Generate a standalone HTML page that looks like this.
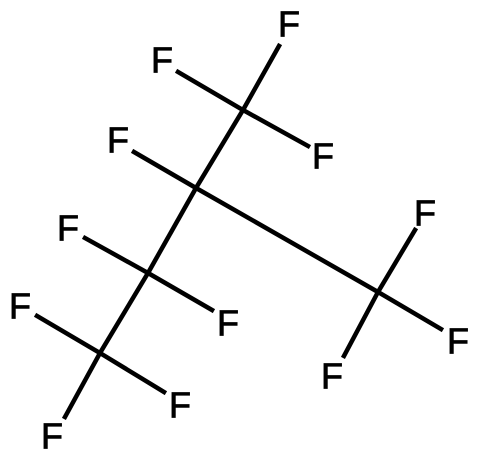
<!DOCTYPE html>
<html><head><meta charset="utf-8"><style>
html,body{margin:0;padding:0;background:#fff;}
svg{display:block;}
text{font-family:"Liberation Sans",sans-serif;font-size:36px;fill:#000;stroke:#000;stroke-width:0.8px;}
</style></head><body>
<svg width="479" height="461" viewBox="0 0 479 461">
<g stroke="#000" stroke-width="4.5" stroke-linecap="square">
<line x1="243" y1="110" x2="279" y2="46"/>
<line x1="243" y1="110" x2="178" y2="72"/>
<line x1="243" y1="110" x2="308" y2="146"/>
<line x1="243" y1="110" x2="196" y2="188"/>
<line x1="196" y1="188" x2="134" y2="152"/>
<line x1="196" y1="188" x2="378" y2="292"/>
<line x1="378" y1="292" x2="415" y2="230"/>
<line x1="378" y1="292" x2="441" y2="329"/>
<line x1="378" y1="292" x2="344" y2="356"/>
<line x1="196" y1="188" x2="148" y2="273"/>
<line x1="148" y1="273" x2="85" y2="238"/>
<line x1="148" y1="273" x2="212" y2="310"/>
<line x1="148" y1="273" x2="100" y2="353"/>
<line x1="100" y1="353" x2="37" y2="316"/>
<line x1="100" y1="353" x2="164" y2="392"/>
<line x1="100" y1="353" x2="65" y2="417"/>
</g>
<g text-anchor="middle" dominant-baseline="central">
<text x="289" y="24">F</text>
<text x="162" y="60">F</text>
<text x="323" y="156">F</text>
<text x="118" y="140">F</text>
<text x="425" y="213">F</text>
<text x="68" y="228">F</text>
<text x="228" y="323">F</text>
<text x="458" y="341">F</text>
<text x="20" y="306">F</text>
<text x="180" y="405">F</text>
<text x="332" y="376">F</text>
<text x="52" y="436">F</text>
</g>
</svg>
</body></html>
